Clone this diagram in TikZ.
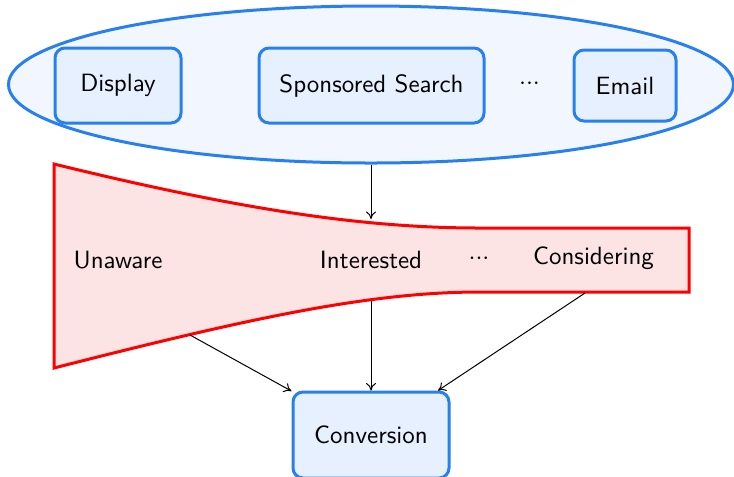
\documentclass[tikz,border=0pt]{standalone}
\usetikzlibrary{shapes.geometric,arrows.meta}
\definecolor{chanblue}{RGB}{40,128,240}
\definecolor{chanfill}{RGB}{242,247,255}
\definecolor{boxfill}{RGB}{230,240,255}
\definecolor{stagefill}{RGB}{253,228,228}
\newcommand{\dotrow}{${\cdot}{\cdot}{\cdot}$}
\tikzset{
  channel/.style={draw=chanblue, line width=1.2pt, fill=boxfill, rounded corners=4pt,
    inner sep=0pt, font=\sffamily},
  stage/.style={inner sep=0pt, font=\sffamily},
  flow/.style={-{To[length=3pt,width=4pt]}, line width=0.4pt},
}
\begin{document}
\begin{tikzpicture}[x=0.4pt,y=-0.4pt]
\useasboundingbox (0,0) rectangle (734,476);

% channel cloud
\node[ellipse, draw=chanblue, line width=1.2pt, fill=chanfill, inner sep=0pt,
  minimum width={725*0.4pt}, minimum height={157*0.4pt}] (channels) at (371,84.5) {};
\node[channel, minimum width={126*0.4pt}, minimum height={75*0.4pt}] (display) at (118,85.5) {Display};
\node[channel, minimum width={225*0.4pt}, minimum height={75*0.4pt}] (sponsored) at (371.5,85.5) {Sponsored Search};
\node[stage] (chdots) at (529.5,84) {\dotrow};
\node[channel, minimum width={102*0.4pt}, minimum height={71*0.4pt}] (email) at (625,85.5) {Email};

% funnel of user states
\draw[red, line width=1.2pt, fill=stagefill]
  (54,164) .. controls (250,212) and (370,228) .. (480,228) -- (689,228) -- (689,292)
  -- (480,292) .. controls (370,292) and (250,318) .. (54,368) -- cycle;
\coordinate (ftop) at (371,219);
\coordinate (fleft) at (190,335);
\coordinate (fmid) at (371,301);
\coordinate (fright) at (585,293);

\node[stage] (unaware) at (118,260) {Unaware};
\node[stage] (interested) at (371,260) {Interested};
\node[stage] (stdots) at (479,259) {\dotrow};
\node[stage] (considering) at (593.5,258) {Considering};

% outcome
\node[channel, minimum width={156*0.4pt}, minimum height={86*0.4pt}] (conversion) at (371,435) {Conversion};

% connectors
\draw[flow] (channels.south) -- (ftop);
\draw[flow] (fleft) -- (conversion);
\draw[flow] (fmid) -- (conversion);
\draw[flow] (fright) -- (conversion);
\end{tikzpicture}
\end{document}
